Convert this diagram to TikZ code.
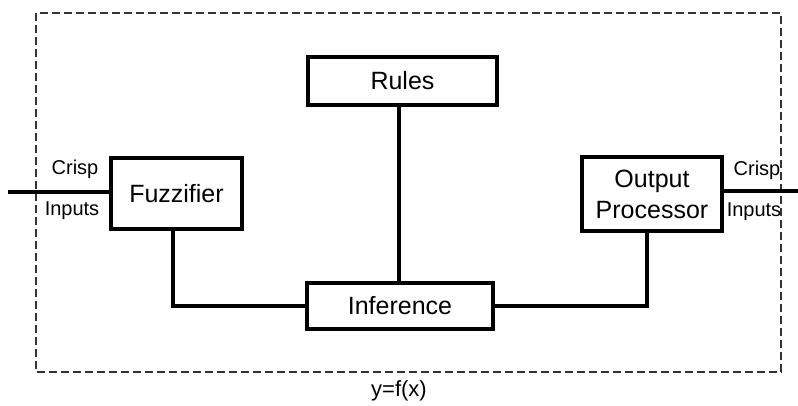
\documentclass[tikz,border=0pt]{standalone}
\usepackage{fontspec}
\setmainfont{Liberation Sans}
\begin{document}
\begin{tikzpicture}[x=1pt,y=-1pt,
  blk/.style={draw=black,line width=4pt,fill=white,inner sep=0pt,font=\fontsize{25}{31}\selectfont},
  conn/.style={line width=4pt,line cap=rect},
  lbl/.style={font=\fontsize{20}{22}\selectfont,inner sep=0pt}]
\useasboundingbox (0,0) rectangle (798,405);
\draw[line width=1.8pt,draw=black!80,dash pattern=on 8pt off 4pt] (36,13) rectangle (781,372);
\node[blk,minimum width=131pt,minimum height=71pt,anchor=north west] (fuz) at (109,156) {Fuzzifier};
\node[blk,minimum width=189pt,minimum height=48pt,anchor=north west] (rules) at (306,55) {Rules};
\node[blk,minimum width=186pt,minimum height=46pt,anchor=north west] (inf) at (305,281) {Inference};
\node[blk,minimum width=140pt,minimum height=74pt,anchor=north west,align=center] (out) at (580,155) {Output\\Processor};
\coordinate (inL) at (10,192);
\coordinate (outR) at (798,191);
\coordinate (rb) at (399,103);
\draw[conn] (inL) -- (fuz.west |- inL);
\draw[conn] (out.east |- outR) -- (outR);
\draw[conn] (173,227) |- (inf.west);
\draw[conn] (rb) -- (rb |- inf.north);
\draw[conn] (647,229) |- (inf.east);
\node[blk,minimum width=131pt,minimum height=71pt,anchor=north west] at (109,156) {Fuzzifier};
\node[blk,minimum width=140pt,minimum height=74pt,anchor=north west,align=center] at (580,155) {Output\\Processor};
\node[blk,minimum width=186pt,minimum height=46pt,anchor=north west] at (305,281) {Inference};
\node[blk,minimum width=189pt,minimum height=48pt,anchor=north west] at (306,55) {Rules};
\node[lbl] (c1) at (75,169) {Crisp};
\node[lbl] (i1) at (72,211) {Inputs};
\node[lbl] (c2) at (757,170) {Crisp};
\node[lbl] (i2) at (754,212) {Inputs};
\node[lbl,font=\fontsize{22}{24}\selectfont] (yf) at (399,391) {y=f(x)};
\end{tikzpicture}
\end{document}
